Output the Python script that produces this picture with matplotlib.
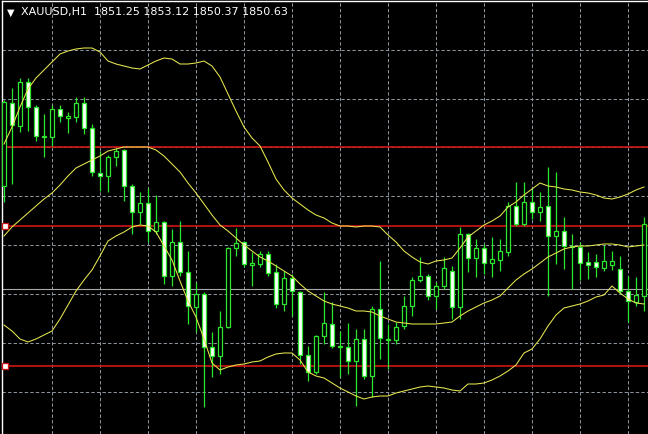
import matplotlib
matplotlib.use("Agg")
import matplotlib.pyplot as plt
from matplotlib.transforms import blended_transform_factory

# MT4-style H1 gold chart with Bollinger bands and a few horizontal levels

SYMBOL = "XAUUSD,H1"
QUOTE = ["1851.25", "1853.12", "1850.37", "1850.63"]

OPEN = [1856.3, 1864.6, 1862.3, 1866.7, 1864.2, 1861.3, 1861.2, 1864.0, 1863.1, 1863.2,
        1864.6, 1862.1, 1857.6, 1857.3, 1859.2, 1859.9, 1856.3, 1853.7, 1854.6, 1851.8,
        1852.7, 1847.3, 1850.7, 1847.7, 1844.2, 1845.5, 1840.2, 1839.3, 1842.2, 1850.1,
        1850.7, 1848.4, 1848.5, 1849.5, 1847.7, 1844.5, 1847.1, 1845.7, 1839.4, 1837.7,
        1841.3, 1842.5, 1840.3, 1840.2, 1838.8, 1841.0, 1837.3, 1844.0, 1840.9, 1840.9,
        1842.3, 1844.3, 1846.9, 1847.3, 1845.3, 1846.3, 1847.8, 1844.2, 1851.5, 1849.1,
        1850.1, 1848.6, 1848.9, 1849.7, 1854.3, 1852.5, 1854.7, 1853.7, 1854.3, 1851.3,
        1851.8, 1850.3, 1850.2, 1848.7, 1848.7, 1848.1, 1848.4, 1848.0, 1845.8, 1844.7,
        1845.3]
HIGH = [1864.9, 1866.1, 1867.1, 1867.1, 1864.4, 1863.5, 1864.4, 1864.4, 1863.7, 1865.2,
        1865.2, 1862.5, 1859.8, 1859.4, 1860.1, 1860.0, 1856.5, 1855.7, 1856.1, 1855.4,
        1852.8, 1852.0, 1852.8, 1849.8, 1846.7, 1845.7, 1841.7, 1843.8, 1850.2, 1852.1,
        1850.8, 1849.7, 1849.8, 1849.8, 1848.5, 1847.8, 1847.5, 1845.8, 1840.3, 1841.4,
        1845.7, 1844.7, 1841.8, 1842.6, 1842.0, 1842.0, 1844.3, 1848.8, 1842.5, 1842.7,
        1845.3, 1847.2, 1849.2, 1847.5, 1846.7, 1849.2, 1848.3, 1852.2, 1851.6, 1851.0,
        1850.5, 1851.2, 1851.0, 1854.7, 1856.7, 1856.7, 1856.0, 1855.7, 1858.2, 1857.7,
        1853.2, 1851.5, 1850.7, 1849.7, 1849.5, 1850.4, 1849.8, 1849.3, 1847.3, 1847.2,
        1853.2]
LOW = [1854.7, 1856.5, 1861.7, 1861.8, 1860.8, 1859.2, 1860.3, 1862.7, 1861.6, 1862.7,
       1861.5, 1857.3, 1855.8, 1855.7, 1858.3, 1854.8, 1851.5, 1852.5, 1850.7, 1851.5,
       1846.5, 1846.3, 1847.3, 1842.5, 1841.7, 1834.2, 1837.2, 1837.5, 1842.1, 1849.3,
       1848.2, 1846.3, 1848.2, 1847.3, 1844.1, 1843.8, 1843.3, 1838.5, 1836.8, 1837.5,
       1840.5, 1840.1, 1837.2, 1837.5, 1834.3, 1837.0, 1835.2, 1839.0, 1838.0, 1840.5,
       1842.0, 1843.3, 1846.7, 1844.9, 1844.0, 1846.0, 1843.0, 1843.0, 1847.7, 1847.2,
       1847.5, 1847.2, 1847.8, 1849.3, 1852.3, 1852.3, 1853.0, 1852.8, 1845.3, 1848.5,
       1848.0, 1846.0, 1846.9, 1847.0, 1847.2, 1847.8, 1847.9, 1845.5, 1842.7, 1844.3,
       1843.8]
CLOSE = [1864.7, 1862.4, 1866.7, 1864.2, 1861.3, 1861.2, 1864.0, 1863.3, 1863.3, 1864.6,
         1862.1, 1857.7, 1857.3, 1859.2, 1859.8, 1856.3, 1853.7, 1854.6, 1851.8, 1852.7,
         1847.3, 1850.7, 1847.7, 1844.3, 1845.5, 1840.2, 1839.3, 1842.2, 1850.1, 1850.6,
         1848.5, 1848.6, 1849.5, 1847.6, 1844.5, 1847.1, 1845.8, 1839.4, 1837.7, 1841.3,
         1842.6, 1840.3, 1840.2, 1838.8, 1841.0, 1837.3, 1844.0, 1841.1, 1841.0, 1842.2,
         1844.3, 1846.9, 1847.3, 1845.3, 1846.3, 1848.1, 1844.2, 1851.5, 1849.1, 1850.1,
         1848.6, 1849.0, 1849.8, 1854.3, 1852.5, 1854.7, 1853.7, 1854.2, 1851.3, 1851.8,
         1850.3, 1850.2, 1848.6, 1848.4, 1848.2, 1848.8, 1848.8, 1845.8, 1844.8, 1845.4,
         1852.5]

BB_UPPER = [1860.5, 1862.2, 1864.2, 1866.0, 1867.1, 1867.9, 1868.7, 1869.5, 1869.8, 1870.0,
            1870.1, 1870.1, 1869.7, 1868.8, 1868.5, 1868.3, 1868.1, 1868.0, 1868.4, 1868.8,
            1869.1, 1869.0, 1868.5, 1868.5, 1868.6, 1868.8, 1868.3, 1867.2, 1865.5, 1863.8,
            1862.2, 1861.1, 1860.3, 1858.7, 1857.0, 1855.9, 1855.1, 1854.5, 1853.9, 1853.4,
            1853.1, 1852.6, 1852.3, 1852.3, 1852.2, 1852.3, 1852.3, 1852.2, 1851.4, 1850.7,
            1849.8, 1849.2, 1848.7, 1848.5, 1848.8, 1848.9, 1849.1, 1850.1, 1851.2, 1851.8,
            1852.4, 1852.8, 1853.3, 1854.2, 1854.7, 1855.4, 1856.0, 1856.6, 1856.3, 1856.2,
            1856.0, 1855.9, 1855.7, 1855.6, 1855.4, 1855.1, 1855.0, 1855.2, 1855.5, 1855.9,
            1856.2]
BB_MID = [1851.3, 1852.2, 1852.9, 1853.6, 1854.3, 1855.0, 1855.6, 1856.4, 1857.3, 1858.1,
          1858.5, 1858.9, 1859.3, 1859.8, 1860.0, 1860.2, 1860.2, 1860.2, 1860.2, 1859.9,
          1859.3, 1858.5, 1857.7, 1856.6, 1855.6, 1854.5, 1853.4, 1852.4, 1851.8, 1851.1,
          1850.4, 1849.8, 1849.2, 1848.8, 1848.3, 1847.8, 1847.3, 1846.5, 1845.8, 1845.3,
          1844.8, 1844.5, 1844.3, 1844.1, 1843.8, 1843.8, 1843.7, 1843.3, 1843.0, 1842.7,
          1842.6, 1842.5, 1842.5, 1842.5, 1842.5, 1842.6, 1842.7, 1843.3, 1843.8, 1844.2,
          1844.6, 1844.9, 1845.3, 1846.1, 1846.9, 1847.5, 1848.0, 1848.6, 1849.2, 1849.6,
          1850.0, 1850.2, 1850.3, 1850.3, 1850.4, 1850.5, 1850.5, 1850.4, 1850.2, 1850.3,
          1850.4]
BB_LOWER = [1842.4, 1841.8, 1841.0, 1840.7, 1841.0, 1841.4, 1841.8, 1843.0, 1844.4, 1845.8,
            1846.9, 1847.9, 1849.3, 1850.8, 1851.3, 1851.7, 1852.2, 1852.4, 1852.3, 1851.7,
            1850.3, 1848.9, 1846.8, 1844.8, 1843.2, 1841.0, 1838.6, 1837.9, 1838.2, 1838.4,
            1838.5, 1838.7, 1838.8, 1839.2, 1839.5, 1839.6, 1839.6, 1838.9, 1837.7, 1837.3,
            1837.1, 1836.6, 1836.1, 1835.7, 1835.3, 1835.0, 1835.2, 1835.3, 1835.3, 1835.6,
            1835.8, 1836.0, 1836.2, 1836.3, 1836.2, 1836.1, 1835.9, 1835.8, 1836.5, 1836.5,
            1836.6, 1836.9, 1837.3, 1837.8, 1838.4, 1839.6, 1840.0, 1841.0, 1842.3, 1843.4,
            1844.1, 1844.3, 1844.5, 1844.8, 1845.2, 1845.4, 1846.3, 1845.6, 1845.0, 1844.6,
            1844.5]

RED_LEVELS = [1860.2, 1852.3, 1838.3]
MARKED_LEVELS = [1852.3, 1838.3]
GRAY_LEVEL = 1846.0
GRID_PRICES = [1869.9, 1865.0, 1860.2, 1855.3, 1850.4, 1845.5, 1840.6, 1835.7]
GRID_EVERY = 6

BG = "black"
GREEN = "#2ee62e"
YELLOW = "#e8e850"
RED = "#d01414"
GRID = "#8a929c"

plt.rcParams["lines.scale_dashes"] = False

W, H = 648, 435
fig = plt.figure(figsize=(W / 100, H / 100), dpi=100, facecolor=BG)
ax = fig.add_axes([2 / W, 0, (W - 2) / W, (H - 2) / H])
ax.set_facecolor(BG)

n = len(OPEN)
idx = list(range(n))

# grid
for p in GRID_PRICES:
    ax.axhline(p, color=GRID, lw=0.72, ls=(0, (2.4, 1.6)), zorder=0)
for i in range(GRID_EVERY, n, GRID_EVERY):
    ax.axvline(i, color=GRID, lw=0.72, ls=(0, (2.4, 1.6)), zorder=0)

# horizontal levels
for p in RED_LEVELS:
    ax.axhline(p, xmin=3 / (W - 2), color=RED, lw=1.2, zorder=1)
ax.axhline(GRAY_LEVEL, color="#a8a8a8", lw=0.8, zorder=1)
trans = blended_transform_factory(ax.transAxes, ax.transData)
ax.plot([3.4 / (W - 2)] * len(MARKED_LEVELS), MARKED_LEVELS, "s", ms=3.8,
        mfc="white", mec=RED, mew=0.9, transform=trans, clip_on=False, zorder=6)

# candles: bull = hollow (black), bear = white body
ax.vlines(idx, LOW, HIGH, color=GREEN, lw=0.9, zorder=3)
bottoms = [min(o, c) for o, c in zip(OPEN, CLOSE)]
heights = [abs(c - o) for o, c in zip(OPEN, CLOSE)]
fills = ["black" if c > o else "white" for o, c in zip(OPEN, CLOSE)]
ax.bar(idx, heights, bottom=bottoms, width=0.55, color=fills,
       edgecolor=GREEN, linewidth=0.9, zorder=4)

# Bollinger bands
for band in (BB_UPPER, BB_MID, BB_LOWER):
    ax.plot(idx, band, color=YELLOW, lw=0.75, zorder=5)

ax.set_xlim(-0.25, 80.5)
ax.set_ylim(1831.5, 1874.8)
ax.set_xticks([])
ax.set_yticks([])
for side in ("bottom", "right"):
    ax.spines[side].set_visible(False)
for side in ("left", "top"):
    ax.spines[side].set_color("white")
    ax.spines[side].set_linewidth(1.0)

fig.text(10.5 / W, 1 - 12.5 / H, "\u25bc", color="white", fontsize=7,
         ha="center", va="center")
fig.text(21 / W, 1 - 12.5 / H, SYMBOL + "  " + " ".join(QUOTE), color="white",
         fontsize=8, ha="left", va="center")

fig.savefig("out.png", dpi=100, facecolor=BG)
